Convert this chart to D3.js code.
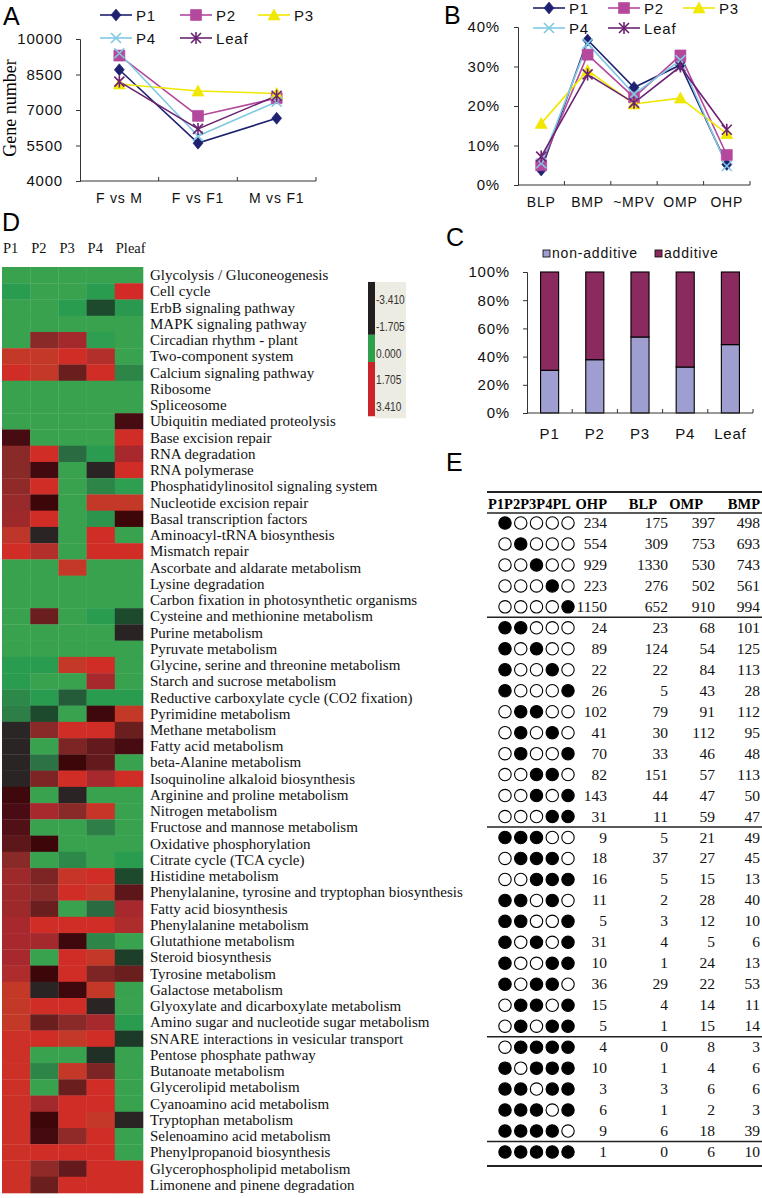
<!DOCTYPE html>
<html><head><meta charset="utf-8">
<script src="https://cdn.jsdelivr.net/npm/d3@7"></script>
<style>
body{margin:0;background:#fff;}
svg{display:block;}
</style></head>
<body>
<svg id="fig" width="762" height="1198"></svg>
<script>
// ---------------- DATA ----------------
const seriesNames = ["P1", "P2", "P3", "P4", "Leaf"];

// Panel A
const aCategories = ["F vs M", "F vs F1", "M vs F1"];
const aTicks = [4000, 5500, 7000, 8500, 10000];
const aP1 = [8700, 5600, 6650];
const aP2 = [9300, 6750, 7500];
const aP3 = [8100, 7800, 7700];
const aP4 = [9400, 5900, 7350];
const aLeaf = [8200, 6200, 7600];

// Panel B (percent)
const bCategories = ["BLP", "BMP", "~MPV", "OMP", "OHP"];
const bTicks = [0, 10, 20, 30, 40];
const bP1 = [3.8, 36.7, 24.7, 30.4, 5.2];
const bP2 = [5.0, 33.0, 22.2, 32.8, 7.6];
const bP3 = [15.6, 29.0, 20.5, 22.0, 13.0];
const bP4 = [5.5, 35.8, 23.0, 31.6, 4.8];
const bLeaf = [7.2, 28.0, 20.8, 30.0, 14.0];

// Panel C (percent)
const cCategories = ["P1", "P2", "P3", "P4", "Leaf"];
const cTicks = [0, 20, 40, 60, 80, 100];
const cNonAdditive = [30.3, 37.8, 53.9, 32.6, 48.5];
const cAdditive = [69.7, 62.2, 46.1, 67.4, 51.5];
const cLegend = ["non-additive", "additive"];

// Panel D (heatmap)
const dColumns = ["P1", "P2", "P3", "P4", "Pleaf"];
const dPathways = [
 "Glycolysis / Gluconeogenesis", "Cell cycle", "ErbB signaling pathway", "MAPK signaling pathway",
 "Circadian rhythm - plant", "Two-component system", "Calcium signaling pathway", "Ribosome",
 "Spliceosome", "Ubiquitin mediated proteolysis", "Base excision repair", "RNA degradation",
 "RNA polymerase", "Phosphatidylinositol signaling system", "Nucleotide excision repair",
 "Basal transcription factors", "Aminoacyl-tRNA biosynthesis", "Mismatch repair",
 "Ascorbate and aldarate metabolism", "Lysine degradation", "Carbon fixation in photosynthetic organisms",
 "Cysteine and methionine metabolism", "Purine metabolism", "Pyruvate metabolism",
 "Glycine, serine and threonine metabolism", "Starch and sucrose metabolism",
 "Reductive carboxylate cycle (CO2 fixation)", "Pyrimidine metabolism", "Methane metabolism",
 "Fatty acid metabolism", "beta-Alanine metabolism", "Isoquinoline alkaloid biosynthesis",
 "Arginine and proline metabolism", "Nitrogen metabolism", "Fructose and mannose metabolism",
 "Oxidative phosphorylation", "Citrate cycle (TCA cycle)", "Histidine metabolism",
 "Phenylalanine, tyrosine and tryptophan biosynthesis", "Fatty acid biosynthesis",
 "Phenylalanine metabolism", "Glutathione metabolism", "Steroid biosynthesis", "Tyrosine metabolism",
 "Galactose metabolism", "Glyoxylate and dicarboxylate metabolism",
 "Amino sugar and nucleotide sugar metabolism", "SNARE interactions in vesicular transport",
 "Pentose phosphate pathway", "Butanoate metabolism", "Glycerolipid metabolism",
 "Cyanoamino acid metabolism", "Tryptophan metabolism", "Selenoamino acid metabolism",
 "Phenylpropanoid biosynthesis", "Glycerophospholipid metabolism", "Limonene and pinene degradation"
];
const dValues = [
 [0,0,0,0,0],[-0.4,0,0,-0.4,3.4],[0,0,-0.4,-2.0,-0.5],[0,0,0,0,0],[0,1.8,2.3,-0.3,0],
 [2.9,2.9,3.3,2.6,0],[3.3,2.9,1.3,3.3,-1.0],[0,0,0,0,0],[0,0,0,0,0],[0,0,0,0,0.7],
 [0.7,0,0,0,3.3],[1.8,3.3,-1.4,-0.4,2.4],[1.8,0.5,0,-3.2,3.3],[1.9,3.3,0,-1.0,-0.3],[2.1,0.3,0,2.9,2.9],
 [2.2,3.3,0,-0.6,0.3],[2.8,-3.2,0,3.3,0],[3.3,2.6,0,3.3,3.3],[0,0,2.9,0,0],[0,0,0,0,0],
 [0,0,0,0,0],[0,1.3,0,-0.4,-2.0],[0,0,0,0,-3.3],[0,0,0,0,0],[-0.4,-0.4,2.9,3.3,0],
 [-0.4,0,0,2.4,0],[-0.9,-0.4,-1.7,-0.4,-0.4],[-1.1,-2.0,0,0.4,2.9],[-3.0,1.8,3.3,3.3,1.3],[-3.2,0,1.6,1.2,0.7],
 [-3.2,-1.3,0.3,1.2,0],[-3.2,1.6,3.3,2.4,3.3],[0.4,0,-3.2,0,0],[0.8,2.4,1.8,3.0,0],[0.9,0,0,-1.1,0],
 [1.1,0.3,0,0,0],[1.8,0,-0.9,0,-0.4],[2.2,1.6,3.0,3.3,-2.0],[2.2,1.8,3.3,2.9,1.1],[2.2,1.3,0,-1.4,2.4],
 [2.4,3.3,3.3,3.3,2.5],[2.4,2.3,0.4,-1.0,0],[2.4,0,3.3,2.9,-2.2],[2.5,0.3,3.3,1.6,1.3],[2.9,-3.2,0.4,2.9,0],
 [2.9,3.3,3.3,-3.2,0],[2.9,1.3,1.8,2.4,-0.4],[3.2,3.3,2.9,3.3,-2.3],[3.2,0,0,-2.6,0],[3.2,-1.0,2.9,1.6,0],
 [3.2,0,1.3,3.3,0],[3.2,2.3,3.3,3.3,0],[3.2,0.3,3.3,2.9,-3.2],[3.2,0.6,1.9,3.3,0],[3.2,3.3,3.3,3.3,0],
 [3.2,1.9,1.2,3.3,3.3],[3.2,1.3,3.3,3.3,3.3]
];
const dLegendTicks = [-3.41, -1.705, 0, 1.705, 3.41];
const dLegendBlocks = [[-4.56, -1.19], [-1.19, 0.54], [0.54, 4.0]];

// Panel E (table)
const eHeaders = ["P1P2P3P4PL", "OHP", "BLP", "OMP", "BMP"];
const ePatterns = [
 "10000","01000","00100","00010","00001",
 "11000","10100","10010","10001","01100","01010","01001","00110","00101","00011",
 "11100","01110","00111","11010","11001","10101","10011","10110","01101","01011",
 "01111","10111","11011","11101","11110",
 "11111"
];
const eOHP = [234,554,929,223,1150, 24,89,22,26,102,41,70,82,143,31, 9,18,16,11,5,31,10,36,15,5, 4,10,3,6,9, 1];
const eBLP = [175,309,1330,276,652, 23,124,22,5,79,30,33,151,44,11, 5,37,5,2,3,4,1,29,4,1, 0,1,3,1,6, 0];
const eOMP = [397,753,530,502,910, 68,54,84,43,91,112,46,57,47,59, 21,27,15,28,12,5,24,22,14,15, 8,4,6,2,18, 6];
const eBMP = [498,693,743,561,994, 101,125,113,28,112,95,48,113,50,47, 49,45,13,40,10,6,13,53,11,14, 3,6,6,3,39, 10];
const eGroupSizes = [5, 10, 10, 5, 1];

// ---------------- STYLE ----------------
const sans = "'Liberation Sans', Arial, sans-serif";
const serif = "'Liberation Serif', 'Times New Roman', serif";
const seriesStyle = {
  P1: {color: "#1E2170", symbol: "diamond"},
  P2: {color: "#B4489C", symbol: "square"},
  P3: {color: "#F0E800", symbol: "triangle"},
  P4: {color: "#80C9E2", symbol: "x"},
  Leaf: {color: "#6C2373", symbol: "asterisk"}
};
const markerPaths = {
  diamond: "M0,-6L5,0L0,6L-5,0Z",
  square: "M-5.5,-5.5H5.5V5.5H-5.5Z",
  triangle: "M0,-6L6,5H-6Z",
  x: "M-5,-5L5,5M-5,5L5,-5",
  asterisk: "M-5,-5L5,5M-5,5L5,-5M0,-6V6"
};
function marker(g, type, x, y, color) {
  const p = g.append("path").attr("d", markerPaths[type]).attr("transform", `translate(${x},${y})`);
  if (type === "x" || type === "asterisk") p.attr("fill", "none").attr("stroke", color).attr("stroke-width", 1.6);
  else p.attr("fill", color).attr("stroke", color).attr("stroke-width", 0.6);
}

const svg = d3.select("#fig");
function panelLetter(t, x, y) {
  svg.append("text").attr("x", x).attr("y", y).text(t)
    .attr("font-family", sans).attr("font-size", 25).attr("fill", "#000");
}
function chartText(g, x, y, t, anchor, size) {
  return g.append("text").attr("x", x).attr("y", y).text(t)
    .attr("font-family", sans).attr("font-size", size || 15)
    .attr("letter-spacing", 0.8).attr("text-anchor", anchor || "start").attr("fill", "#111");
}

// ---------- Line panel helper ----------
function linePanel(cfg) {
  const g = svg.append("g");
  const x = d3.scaleBand().domain(cfg.categories).range([cfg.x0, cfg.x1]);
  const y = d3.scaleLinear().domain(cfg.domain).range([cfg.y0, cfg.y1]);
  const yAxis = g.append("g").attr("transform", `translate(${cfg.x0},0)`)
    .call(d3.axisLeft(y).tickValues(cfg.ticks).tickSize(4).tickPadding(cfg.pad).tickFormat(cfg.fmt));
  yAxis.selectAll("text").attr("font-family", sans).attr("font-size", 15).attr("letter-spacing", 0.8).attr("fill", "#111");
  yAxis.selectAll("line,path").attr("stroke", "#333");
  g.append("line").attr("x1", cfg.x0).attr("x2", cfg.x1).attr("y1", cfg.y0).attr("y2", cfg.y0).attr("stroke", "#333");
  cfg.categories.forEach((c, i) => {
    const xe = x(c) + x.bandwidth();
    g.append("line").attr("x1", xe).attr("x2", xe).attr("y1", cfg.y0).attr("y2", cfg.y0 - 4).attr("stroke", "#333");
    chartText(g, x(c) + x.bandwidth() / 2, cfg.y0 + cfg.labelDy, c, "middle", 14);
  });
  cfg.series.forEach(s => {
    const st = seriesStyle[s.name];
    const line = d3.line().x((d, i) => x(cfg.categories[i]) + x.bandwidth() / 2).y(d => y(d));
    g.append("path").datum(s.values).attr("d", line).attr("fill", "none")
      .attr("stroke", st.color).attr("stroke-width", 1.6);
  });
  cfg.series.forEach(s => {
    const st = seriesStyle[s.name];
    s.values.forEach((v, i) => marker(g, st.symbol, x(cfg.categories[i]) + x.bandwidth() / 2, y(v), st.color));
  });
  cfg.series.forEach((s, i) => {
    const st = seriesStyle[s.name];
    const lx = cfg.legX[i % 3], ly = cfg.legY[Math.floor(i / 3)];
    g.append("line").attr("x1", lx).attr("x2", lx + 32).attr("y1", ly).attr("y2", ly)
      .attr("stroke", st.color).attr("stroke-width", 1.6);
    marker(g, st.symbol, lx + 16, ly, st.color);
    chartText(g, lx + 36, ly + 5.5, s.name, "start", 15);
  });
}

// Panel A
panelLetter("A", 3, 25);
linePanel({
  categories: aCategories, x0: 80, x1: 316, y0: 181, y1: 39, domain: [4000, 10000],
  ticks: aTicks, pad: 13, fmt: d3.format("d"), labelDy: 22,
  series: [{name: "P1", values: aP1}, {name: "P2", values: aP2}, {name: "P3", values: aP3},
           {name: "P4", values: aP4}, {name: "Leaf", values: aLeaf}],
  legX: [100, 180, 258], legY: [15, 38]
});
svg.append("text").attr("transform", "rotate(-90)").attr("x", -108).attr("y", 16)
  .attr("text-anchor", "middle").attr("font-family", serif).attr("font-size", 18).text("Gene number");

// Panel B
panelLetter("B", 444, 24);
linePanel({
  categories: bCategories, x0: 518, x1: 750, y0: 185, y1: 27, domain: [0, 40],
  ticks: bTicks, pad: 14, fmt: d => d + "%", labelDy: 22,
  series: [{name: "P1", values: bP1}, {name: "P2", values: bP2}, {name: "P3", values: bP3},
           {name: "P4", values: bP4}, {name: "Leaf", values: bLeaf}],
  legX: [533, 608, 683], legY: [8, 28]
});

// Panel C
panelLetter("C", 446, 246);
{
  const g = svg.append("g");
  const x = d3.scaleBand().domain(cCategories).range([527, 753]).paddingInner(0.6).paddingOuter(0.3);
  const y = d3.scaleLinear().domain([0, 100]).range([413, 272]);
  const yAxis = g.append("g").attr("transform", "translate(527,0)")
    .call(d3.axisLeft(y).tickValues(cTicks).tickSize(4).tickPadding(13).tickFormat(d => d + "%"));
  yAxis.selectAll("text").attr("font-family", sans).attr("font-size", 15).attr("letter-spacing", 0.8).attr("fill", "#111");
  yAxis.selectAll("line,path").attr("stroke", "#333");
  const colors = ["#9E9ED0", "#8A2A5E"];
  cCategories.forEach((c, i) => {
    const bx = x(c), w = x.bandwidth();
    g.append("rect").attr("x", bx).attr("width", w).attr("y", y(cNonAdditive[i]))
      .attr("height", y(0) - y(cNonAdditive[i])).attr("fill", colors[0]).attr("stroke", "#000").attr("stroke-width", 1.1);
    g.append("rect").attr("x", bx).attr("width", w).attr("y", y(cNonAdditive[i] + cAdditive[i]))
      .attr("height", y(cNonAdditive[i]) - y(cNonAdditive[i] + cAdditive[i])).attr("fill", colors[1])
      .attr("stroke", "#000").attr("stroke-width", 1.1);
    const xe = 527 + (i + 1) * x.step();
    g.append("line").attr("x1", xe).attr("x2", xe).attr("y1", 413).attr("y2", 409).attr("stroke", "#333");
    chartText(g, bx + w / 2, 439, c, "middle", 15);
  });
  g.append("line").attr("x1", 527).attr("x2", 753).attr("y1", 413).attr("y2", 413).attr("stroke", "#333");
  const legX = [543, 655];
  cLegend.forEach((t, i) => {
    g.append("rect").attr("x", legX[i]).attr("y", 250).attr("width", 7).attr("height", 7)
      .attr("fill", colors[i]).attr("stroke", "#000").attr("stroke-width", 0.8);
    chartText(g, legX[i] + 9, 258, t, "start", 14);
  });
}

// Panel D heatmap
panelLetter("D", 2, 231);
{
  const g = svg.append("g");
  const x = d3.scaleBand().domain(dColumns).range([2, 143]);
  const y = d3.scaleBand().domain(dPathways).range([267, 1193]);
  const color = d3.scaleLinear()
    .domain([-3.41, -3.0, -2.4, -2.0, -1.4, -1.0, -0.4, 0, 0.2, 0.8, 1.3, 1.8, 2.4, 2.9, 3.41])
    .range(["#2A2222", "#2A2626", "#1D3526", "#1D4A2D", "#2A6B42", "#2E8548", "#2A9C50", "#38A24F",
            "#3A0608", "#4A0C14", "#6A1E1E", "#8A2A28", "#A8292D", "#C43828", "#D42A27"])
    .clamp(true);
  dPathways.forEach((p, r) => {
    dColumns.forEach((c, k) => {
      g.append("rect").attr("x", x(c)).attr("y", y(p)).attr("width", x.bandwidth() + 0.3)
        .attr("height", y.bandwidth() + 0.3).attr("fill", color(dValues[r][k]));
    });
    g.append("text").attr("x", 150).attr("y", y(p) + y.bandwidth() / 2 + 5).text(p)
      .attr("font-family", serif).attr("font-size", 15).attr("fill", "#111");
  });
  dColumns.forEach(c => {
    g.append("text").attr("x", x(c) + 1).attr("y", 253).text(c)
      .attr("font-family", serif).attr("font-size", 14.5).attr("fill", "#111");
  });
  const ly = d3.scaleLinear().domain([-3.41, 3.41]).range([300, 407]);
  const legColors = ["#231F20", "#2EA04C", "#CC2229"];
  g.append("rect").attr("x", 375).attr("y", ly(dLegendBlocks[0][0])).attr("width", 31)
    .attr("height", ly(dLegendBlocks[2][1]) - ly(dLegendBlocks[0][0]) + 2).attr("fill", "#EDECE3");
  dLegendBlocks.forEach((b, i) => {
    g.append("rect").attr("x", 368).attr("y", ly(b[0])).attr("width", 7)
      .attr("height", ly(b[1]) - ly(b[0])).attr("fill", legColors[i]);
  });
  const fmt = d3.formatLocale({decimal: ".", thousands: ",", grouping: [3], currency: ["", ""], minus: "-"}).format(".3f");
  dLegendTicks.forEach(t => {
    g.append("text").attr("transform", `translate(376,${ly(t) + 4}) scale(0.78,1)`).text(fmt(t))
      .attr("font-family", sans).attr("font-size", 13).attr("fill", "#333");
  });
}

// Panel E table
panelLetter("E", 446, 471);
{
  const g = svg.append("g");
  const rowY = d3.scalePoint().domain(d3.range(ePatterns.length)).range([523, 1152]);
  const dotX = d3.scalePoint().domain(d3.range(5)).range([505, 568]);
  const colRight = [607, 668, 715, 760];
  const headRight = [607, 657, 703, 760];
  const cols = [eOHP, eBLP, eOMP, eBMP];
  const L = 487, R = 762;
  g.append("line").attr("x1", L).attr("x2", R).attr("y1", 492).attr("y2", 492).attr("stroke", "#222").attr("stroke-width", 2);
  g.append("line").attr("x1", L).attr("x2", R).attr("y1", 513).attr("y2", 513).attr("stroke", "#222").attr("stroke-width", 1.5);
  g.append("text").attr("x", 488).attr("y", 509).text(eHeaders[0])
    .attr("font-family", serif).attr("font-weight", "bold").attr("font-size", 14.5);
  eHeaders.slice(1).forEach((h, i) => {
    g.append("text").attr("x", headRight[i]).attr("y", 509).text(h).attr("text-anchor", "end")
      .attr("font-family", serif).attr("font-weight", "bold").attr("font-size", 14.5);
  });
  ePatterns.forEach((p, r) => {
    const cy = rowY(r);
    p.split("").forEach((ch, k) => {
      g.append("circle").attr("cx", dotX(k)).attr("cy", cy).attr("r", 6.2)
        .attr("fill", ch === "1" ? "#000" : "#fff").attr("stroke", "#000").attr("stroke-width", 1.1);
    });
    cols.forEach((arr, k) => {
      g.append("text").attr("x", colRight[k]).attr("y", cy + 5).text(arr[r]).attr("text-anchor", "end")
        .attr("font-family", serif).attr("font-size", 15.5).attr("fill", "#111");
    });
  });
  let cum = 0;
  eGroupSizes.slice(0, -1).forEach(n => {
    cum += n;
    const yy = (rowY(cum - 1) + rowY(cum)) / 2;
    g.append("line").attr("x1", L).attr("x2", R).attr("y1", yy).attr("y2", yy).attr("stroke", "#222").attr("stroke-width", 1.5);
  });
  g.append("line").attr("x1", L).attr("x2", R).attr("y1", 1166).attr("y2", 1166).attr("stroke", "#222").attr("stroke-width", 2);
}
</script>
</body></html>
